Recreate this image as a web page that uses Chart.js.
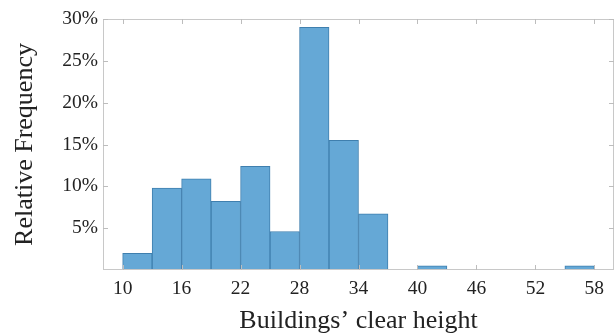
<!DOCTYPE html>
<html>
<head>
<meta charset="utf-8">
<script src="https://cdn.jsdelivr.net/npm/chart.js@4/dist/chart.umd.min.js"></script>
<style>
  html, body { margin: 0; padding: 0; background: #fff; }
  #wrap { width: 616px; height: 334px; }
</style>
</head>
<body>
<div id="wrap"><canvas id="hist"></canvas></div>
<script>
// bin edges (width 3) and relative frequency per bin, in %
const binStarts = [10, 13, 16, 19, 22, 25, 28, 31, 34, 37, 40, 43, 46, 49, 52, 55];
const binWidth = 3;
const freqs = [2.0, 9.8, 10.9, 8.2, 12.4, 4.6, 29.0, 15.5, 6.7, 0, 0.5, 0, 0, 0, 0, 0.5];
const xTicks = [10, 16, 22, 28, 34, 40, 46, 52, 58];
const yTicks = [5, 10, 15, 20, 25, 30];

const fontFam = "'Liberation Serif', 'DejaVu Serif', serif";

// frame around the plot plus small inward ticks on every side
const boxTicks = {
  id: "boxTicks",
  afterDraw(chart) {
    const { ctx, chartArea: a, scales } = chart;
    ctx.save();
    ctx.strokeStyle = "#c8c8c8";
    ctx.lineWidth = 1;
    ctx.strokeRect(a.left + 0.5, a.top + 0.5, a.right - a.left - 1, a.bottom - a.top - 1);
    ctx.strokeStyle = "#bdbdbd";
    ctx.beginPath();
    xTicks.forEach(v => {
      const px = Math.round(scales.x.getPixelForValue(v)) + 0.5;
      ctx.moveTo(px, a.bottom); ctx.lineTo(px, a.bottom - 5);
      ctx.moveTo(px, a.top); ctx.lineTo(px, a.top + 5);
    });
    yTicks.forEach(v => {
      const py = Math.round(scales.y.getPixelForValue(v)) + 0.5;
      ctx.moveTo(a.left, py); ctx.lineTo(a.left + 5, py);
      ctx.moveTo(a.right, py); ctx.lineTo(a.right - 5, py);
    });
    ctx.stroke();
    ctx.restore();
  }
};

new Chart(document.getElementById("hist"), {
  type: "bar",
  data: {
    datasets: [{
      data: binStarts.map((s, i) => ({ x: s + binWidth / 2, y: freqs[i] })),
      backgroundColor: "#65a8d6",
      borderColor: "#3f7fae",
      borderWidth: 1,
      borderSkipped: "bottom",
      barPercentage: 1,
      categoryPercentage: 1
    }]
  },
  options: {
    responsive: true,
    maintainAspectRatio: false,
    animation: false,
    layout: { padding: { top: 19, right: 2, left: 0, bottom: 0 } },
    plugins: { legend: { display: false }, tooltip: { enabled: false } },
    scales: {
      x: {
        type: "linear",
        offset: false,
        min: 8,
        max: 60,
        grid: { display: false, drawTicks: false, offset: false },
        border: { display: false },
        afterBuildTicks: s => { s.ticks = xTicks.map(v => ({ value: v })); },
        afterFit: s => { s.height = 64; },
        ticks: { color: "#222", padding: 7, font: { family: fontFam, size: 19.5 } },
        title: {
          display: true,
          text: "Buildings\u2019 clear height",
          color: "#222",
          padding: { top: 0, bottom: -3 },
          font: { family: fontFam, size: 26 }
        }
      },
      y: {
        min: 0,
        max: 30,
        grid: { display: false, drawTicks: false },
        border: { display: false },
        afterBuildTicks: s => { s.ticks = yTicks.map(v => ({ value: v })); },
        afterFit: s => { s.width = 103; },
        ticks: {
          color: "#222",
          padding: 5,
          font: { family: fontFam, size: 19.5 },
          callback: v => v + "%"
        },
        title: {
          display: true,
          text: "Relative Frequency",
          color: "#222",
          padding: { top: 10, bottom: 4 },
          font: { family: fontFam, size: 26 }
        }
      }
    }
  },
  plugins: [boxTicks]
});
</script>
</body>
</html>
